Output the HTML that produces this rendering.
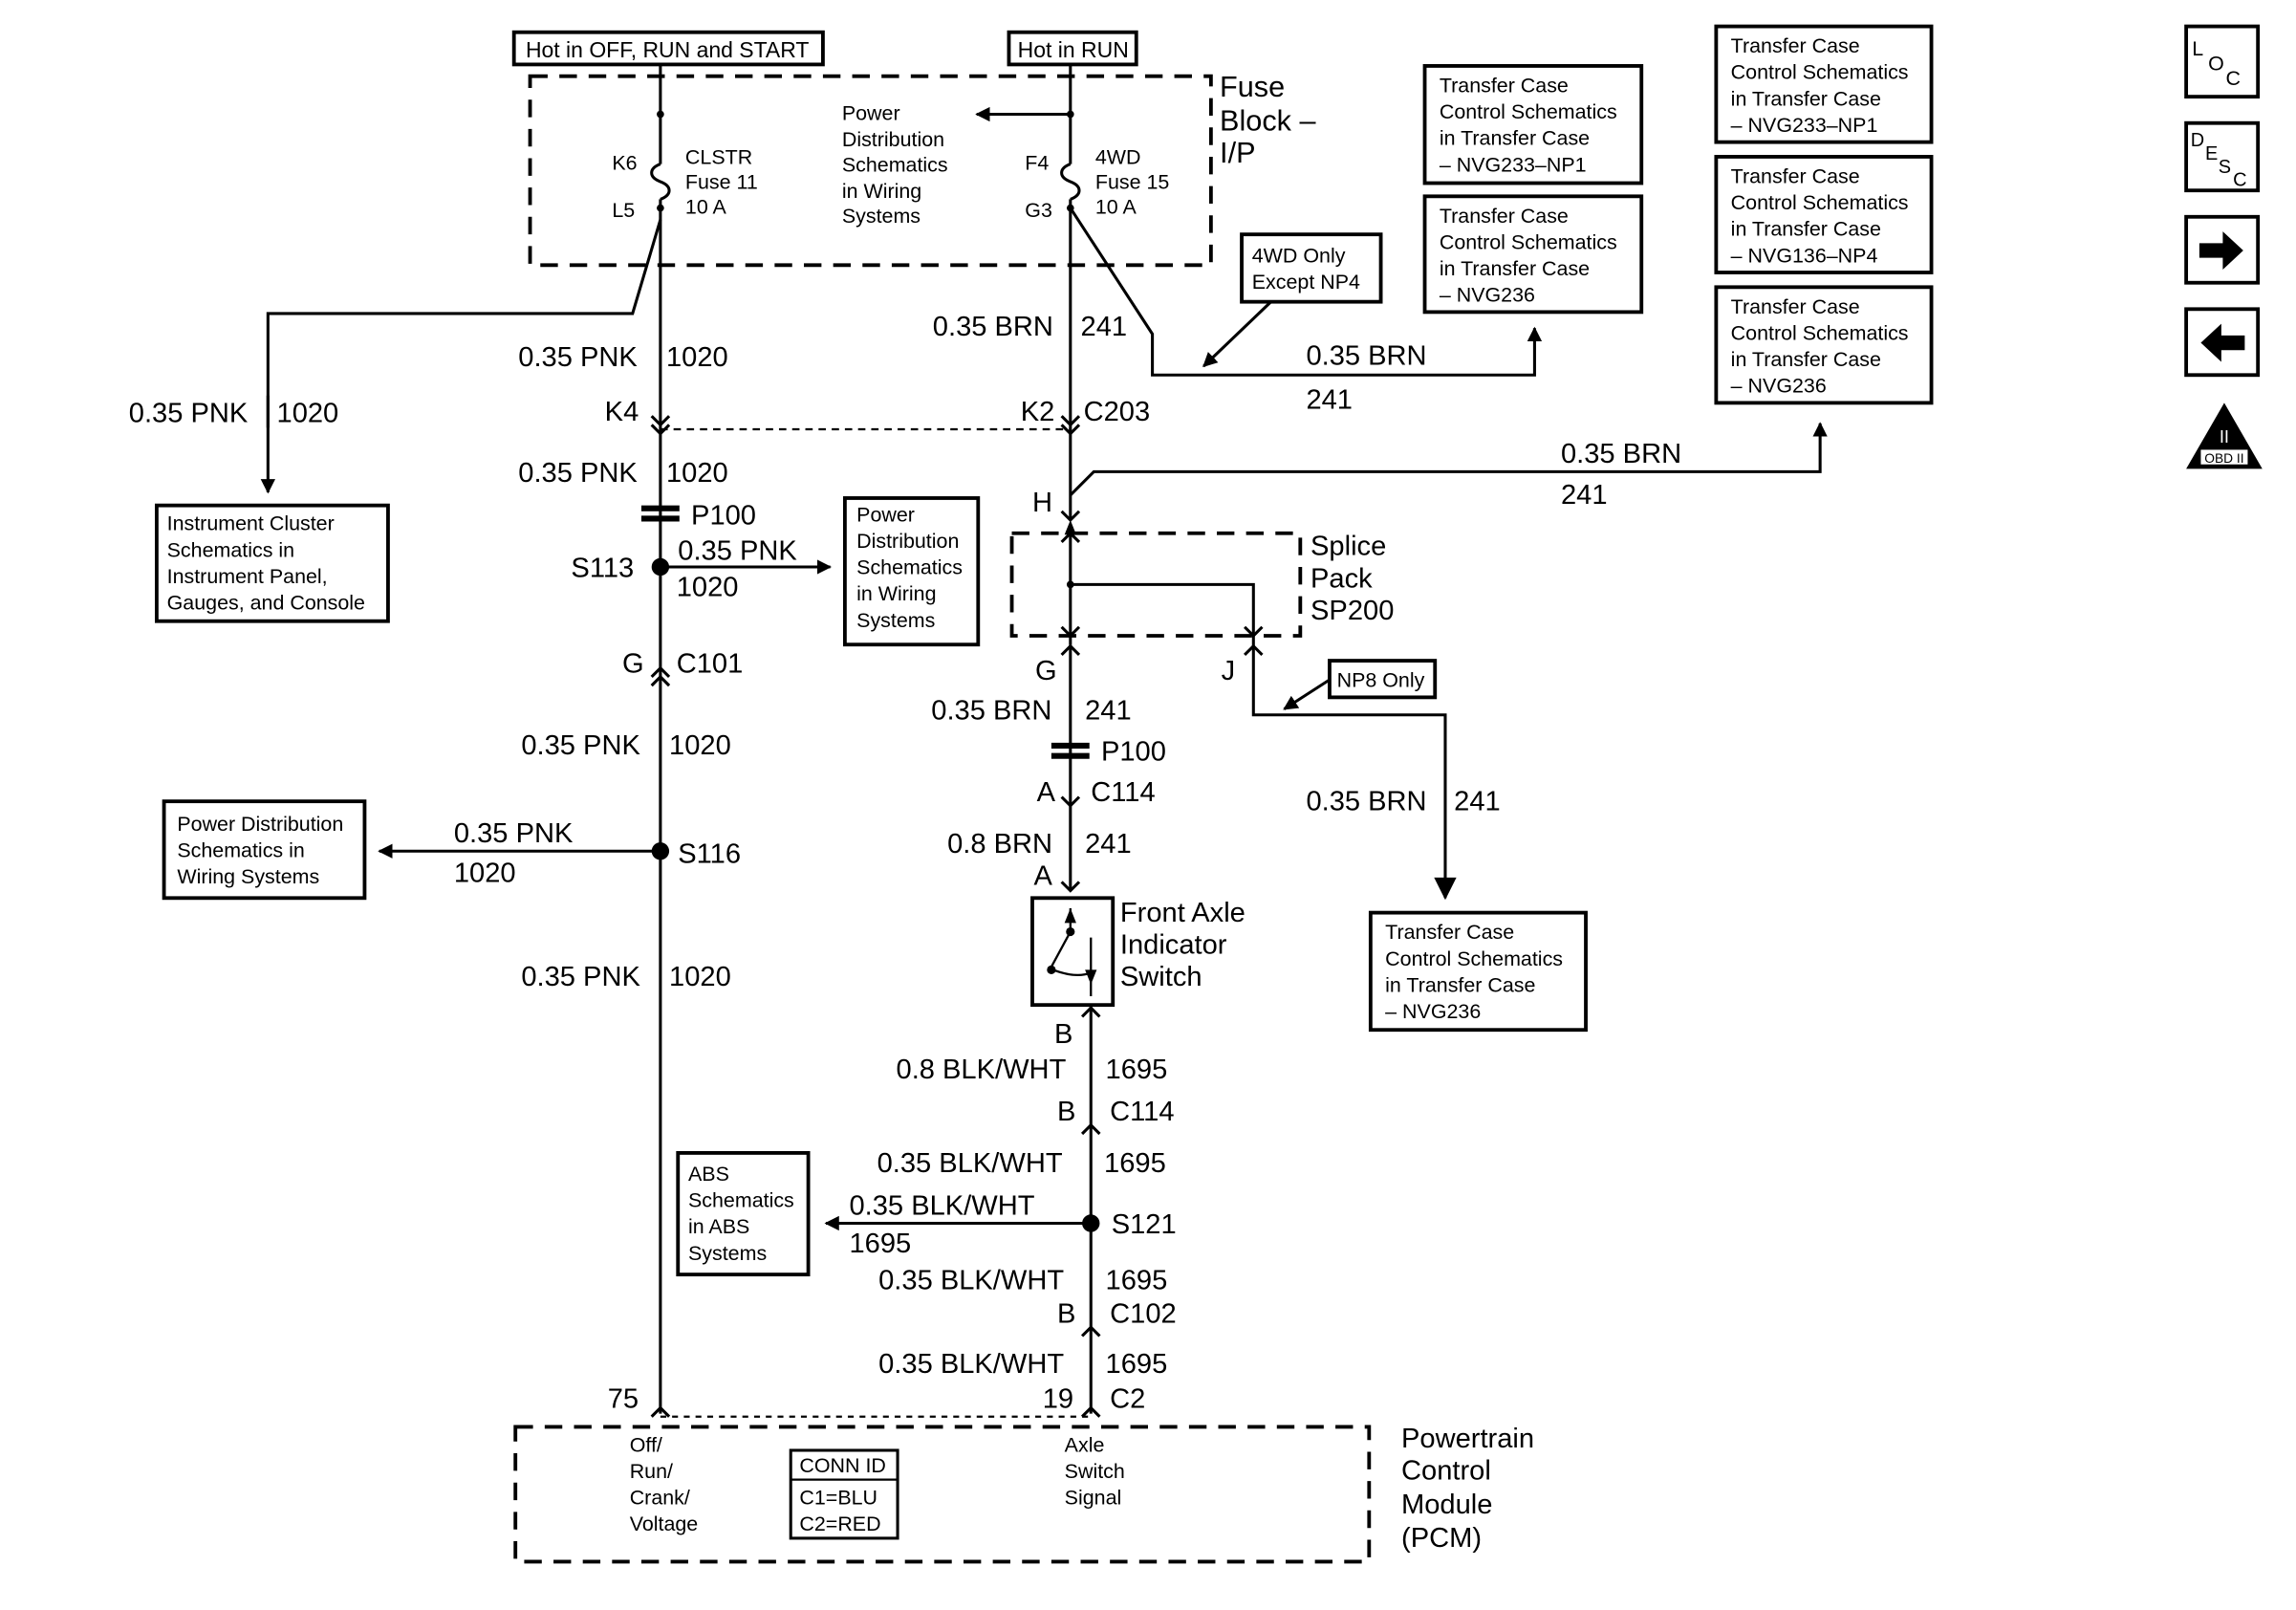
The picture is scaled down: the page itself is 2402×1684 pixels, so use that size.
<!DOCTYPE html>
<html><head><meta charset="utf-8"><style>
html,body{margin:0;padding:0;background:#fff;}
svg{display:block;}
text{font-family:"Liberation Sans",Arial,sans-serif;fill:#000;}
.w{font-size:19px;}
.s{font-size:14px;}
.m{font-size:15px;}
.b{font-size:20px;}
</style></head><body>
<svg width="2402" height="1684" viewBox="0 0 1568 1099" preserveAspectRatio="none" xmlns="http://www.w3.org/2000/svg">
<defs>
<marker id="ar" markerWidth="10" markerHeight="10" refX="9" refY="5" orient="auto" markerUnits="userSpaceOnUse"><path d="M0,0 L10,5 L0,10 z" fill="#000"/></marker>
</defs>
<g fill="none" stroke="#000" stroke-width="2">
<rect x="351" y="22" width="211" height="22" stroke-width="2.5"/>
<rect x="689" y="22" width="87" height="22" stroke-width="2.5"/>
<rect x="362" y="52" width="465" height="129" stroke-dasharray="12,8" stroke-width="2.5"/>
<path d="M451,44 V112 M451,136 V965"/>
<path d="M451,112 c-8,3 -8,9 0,12 c8,3 8,9 0,12"/>
<path d="M731,44 V112 M731,136 V355"/>
<path d="M731,112 c-8,3 -8,9 0,12 c8,3 8,9 0,12"/>
<path d="M451,150 L432,214 H183 V336" marker-end="url(#ar)"/>
<path d="M183,270 V292"/>
<path d="M731,78 H667" marker-end="url(#ar)"/>
<path d="M731,142 L787,228 V256 H1048 V224" marker-end="url(#ar)"/>
<path d="M868,206 L822,250" marker-end="url(#ar)"/>
<rect x="848" y="160" width="95" height="46" stroke-width="2.5"/>
<rect x="973" y="45" width="148" height="80" stroke-width="2.5"/>
<rect x="973" y="134" width="148" height="79" stroke-width="2.5"/>
<rect x="1172" y="18" width="147" height="79" stroke-width="2.5"/>
<rect x="1172" y="107" width="147" height="79" stroke-width="2.5"/>
<rect x="1172" y="196" width="147" height="79" stroke-width="2.5"/>
<path d="M451,293 H731" stroke-dasharray="5,4" stroke-width="1.5"/>
<path d="M445,284 l6,6 l6,-6 M445,290 l6,6 l6,-6 M725,284 l6,6 l6,-6 M725,290 l6,6 l6,-6"/>
<path d="M731,338 L747,322 H1243 V289" marker-end="url(#ar)"/>
<path d="M725,349 l6,6 l6,-6"/>
<rect x="691" y="364" width="197" height="70" stroke-dasharray="12,8" stroke-width="2.5"/>
<path d="M731,364 V440 M731,399 H856 V488 H987 V613"/>
<path d="M725,370 l6,-6 l6,6 M725,428 l6,6 l6,-6 M850,428 l6,6 l6,-6 M725,447 l6,-6 l6,6 M850,447 l6,-6 l6,6"/>
<path d="M987,600 l-6,0 l6,12 l6,-12 z" fill="#000"/>
<rect x="908" y="451" width="72" height="25" stroke-width="2.5"/>
<path d="M908,464 L877,484" marker-end="url(#ar)"/>
<rect x="936" y="623" width="147" height="80" stroke-width="2.5"/>
<path d="M731,440 V608"/>
<path d="M725,544 l6,6 l6,-6 M725,602 l6,6 l6,-6"/>
<rect x="705" y="613" width="55" height="73" stroke-width="2.5"/>
<path d="M731,620 V636 M731,636 L718,660 M745,640 V680 M719,662 Q735,668 745,664" stroke-width="1.5"/>
<path d="M745,686 V965"/>
<path d="M739,694 l6,-6 l6,6 M739,774 l6,-6 l6,6 M739,912 l6,-6 l6,6 M739,967 l6,-6 l6,6"/>
<path d="M745,835 H564" marker-end="url(#ar)"/>
<rect x="463" y="787" width="89" height="83" stroke-width="2.5"/>
<path d="M445,462 l6,-6 l6,6 M445,468 l6,-6 l6,6 M445,967 l6,-6 l6,6"/>
<path d="M451,387 H567" marker-end="url(#ar)"/>
<rect x="577" y="340" width="91" height="100" stroke-width="2.5"/>
<path d="M451,581 H259" marker-end="url(#ar)"/>
<rect x="112" y="547" width="137" height="66" stroke-width="2.5"/>
<rect x="107" y="345" width="158" height="79" stroke-width="2.5"/>
<path d="M451,967 H745" stroke-dasharray="4,4" stroke-width="1.5"/>
<rect x="352" y="974" width="583" height="92" stroke-dasharray="12,8" stroke-width="2.5"/>
<rect x="540" y="990" width="73" height="60" stroke-width="2"/>
<path d="M540,1010 H613" stroke-width="1.5"/>
<rect x="1493" y="18" width="49" height="48" stroke-width="2.5"/>
<rect x="1493" y="84" width="49" height="46" stroke-width="2.5"/>
<rect x="1493" y="148" width="49" height="45" stroke-width="2.5"/>
<rect x="1493" y="211" width="49" height="45" stroke-width="2.5"/>
</g>
<g fill="#000">
<circle cx="451" cy="78" r="2.5"/><circle cx="451" cy="142" r="2.5"/>
<circle cx="731" cy="78" r="2.5"/><circle cx="731" cy="142" r="2.5"/>
<circle cx="731" cy="399" r="2.5"/>
<circle cx="451" cy="387" r="6"/><circle cx="451" cy="581" r="6"/><circle cx="745" cy="835" r="6"/>
<circle cx="731" cy="636" r="3"/><circle cx="718" cy="662" r="3"/>
<rect x="438" y="345" width="26" height="4"/><rect x="438" y="352" width="26" height="4"/>
<rect x="718" y="507" width="26" height="4"/><rect x="718" y="514" width="26" height="4"/>
<path d="M1502,166 h16 v-8 l14,13 l-14,13 v-8 h-16 z"/>
<path d="M1533,229 h-16 v-8 l-14,13 l14,13 v-8 h16 z"/>
<path d="M1519,275 L1545,320 H1493 Z"/>
</g>
<path d="M731,355 l-4,10 h8 z M745,672 l-4,-10 h8 z M731,620 l-4,10 h8 z" fill="#000"/>
<rect x="1503" y="307" width="32" height="10" fill="#fff"/>
<text x="1519" y="316" font-size="9" text-anchor="middle">OBD II</text>
<text x="1519" y="302" font-size="12" text-anchor="middle" style="fill:#fff">II</text>
<text x="1497" y="38" font-size="14">L</text><text x="1508" y="48" font-size="14">O</text><text x="1520" y="58" font-size="14">C</text>
<text x="1496" y="100" font-size="13">D</text><text x="1506" y="109" font-size="13">E</text><text x="1515" y="118" font-size="13">S</text><text x="1525" y="127" font-size="13">C</text>

<text x="359" y="39" class="m">Hot in OFF, RUN and START</text>
<text x="695" y="39" class="m">Hot in RUN</text>
<text x="833" y="66" class="b">Fuse</text><text x="833" y="89" class="b">Block –</text><text x="833" y="111" class="b">I/P</text>
<text x="418" y="116" class="s">K6</text><text x="418" y="148" class="s">L5</text>
<text x="468" y="112" class="s">CLSTR</text><text x="468" y="129" class="s">Fuse 11</text><text x="468" y="146" class="s">10 A</text>
<text x="700" y="116" class="s">F4</text><text x="700" y="148" class="s">G3</text>
<text x="748" y="112" class="s">4WD</text><text x="748" y="129" class="s">Fuse 15</text><text x="748" y="146" class="s">10 A</text>
<text x="575" y="82" class="s">Power</text><text x="575" y="100" class="s">Distribution</text><text x="575" y="117" class="s">Schematics</text><text x="575" y="135" class="s">in Wiring</text><text x="575" y="152" class="s">Systems</text>
<text x="855" y="179" class="s">4WD Only</text><text x="855" y="197" class="s">Except NP4</text>
<g class="s">
<text x="983" y="63">Transfer Case</text><text x="983" y="81">Control Schematics</text><text x="983" y="99">in Transfer Case</text><text x="983" y="117">– NVG233–NP1</text>
<text x="983" y="152">Transfer Case</text><text x="983" y="170">Control Schematics</text><text x="983" y="188">in Transfer Case</text><text x="983" y="206">– NVG236</text>
<text x="1182" y="36">Transfer Case</text><text x="1182" y="54">Control Schematics</text><text x="1182" y="72">in Transfer Case</text><text x="1182" y="90">– NVG233–NP1</text>
<text x="1182" y="125">Transfer Case</text><text x="1182" y="143">Control Schematics</text><text x="1182" y="161">in Transfer Case</text><text x="1182" y="179">– NVG136–NP4</text>
<text x="1182" y="214">Transfer Case</text><text x="1182" y="232">Control Schematics</text><text x="1182" y="250">in Transfer Case</text><text x="1182" y="268">– NVG236</text>
<text x="946" y="641">Transfer Case</text><text x="946" y="659">Control Schematics</text><text x="946" y="677">in Transfer Case</text><text x="946" y="695">– NVG236</text>
<text x="114" y="362">Instrument Cluster</text><text x="114" y="380">Schematics in</text><text x="114" y="398">Instrument Panel,</text><text x="114" y="416">Gauges, and Console</text>
<text x="585" y="356">Power</text><text x="585" y="374">Distribution</text><text x="585" y="392">Schematics</text><text x="585" y="410">in Wiring</text><text x="585" y="428">Systems</text>
<text x="121" y="567">Power Distribution</text><text x="121" y="585">Schematics in</text><text x="121" y="603">Wiring Systems</text>
<text x="470" y="806">ABS</text><text x="470" y="824">Schematics</text><text x="470" y="842">in ABS</text><text x="470" y="860">Systems</text>
<text x="913" y="469">NP8 Only</text>
<text x="430" y="991">Off/</text><text x="430" y="1009">Run/</text><text x="430" y="1027">Crank/</text><text x="430" y="1045">Voltage</text>
<text x="546" y="1005">CONN ID</text><text x="546" y="1027">C1=BLU</text><text x="546" y="1045">C2=RED</text>
<text x="727" y="991">Axle</text><text x="727" y="1009">Switch</text><text x="727" y="1027">Signal</text>
</g>
<g class="w">
<text x="637" y="229">0.35 BRN</text><text x="738" y="229">241</text>
<text x="354" y="250">0.35 PNK</text><text x="455" y="250">1020</text>
<text x="88" y="288">0.35 PNK</text><text x="189" y="288">1020</text>
<text x="892" y="249">0.35 BRN</text><text x="892" y="279">241</text>
<text x="413" y="287">K4</text><text x="697" y="287">K2</text><text x="740" y="287">C203</text>
<text x="354" y="329">0.35 PNK</text><text x="455" y="329">1020</text>
<text x="472" y="358">P100</text>
<text x="390" y="394">S113</text>
<text x="463" y="382">0.35 PNK</text><text x="462" y="407">1020</text>
<text x="1066" y="316">0.35 BRN</text><text x="1066" y="344">241</text>
<text x="705" y="349">H</text>
<text x="895" y="379">Splice</text><text x="895" y="401">Pack</text><text x="895" y="423">SP200</text>
<text x="707" y="464">G</text><text x="834" y="464">J</text>
<text x="425" y="459">G</text><text x="462" y="459">C101</text>
<text x="636" y="491">0.35 BRN</text><text x="741" y="491">241</text>
<text x="752" y="519">P100</text>
<text x="708" y="547">A</text><text x="745" y="547">C114</text>
<text x="647" y="582">0.8 BRN</text><text x="741" y="582">241</text>
<text x="706" y="604">A</text>
<text x="765" y="629">Front Axle</text><text x="765" y="651">Indicator</text><text x="765" y="673">Switch</text>
<text x="892" y="553">0.35 BRN</text><text x="993" y="553">241</text>
<text x="356" y="515">0.35 PNK</text><text x="457" y="515">1020</text>
<text x="310" y="575">0.35 PNK</text><text x="310" y="602">1020</text>
<text x="463" y="589">S116</text>
<text x="356" y="673">0.35 PNK</text><text x="457" y="673">1020</text>
<text x="720" y="712">B</text>
<text x="612" y="736">0.8 BLK/WHT</text><text x="755" y="736">1695</text>
<text x="722" y="765">B</text><text x="758" y="765">C114</text>
<text x="599" y="800">0.35 BLK/WHT</text><text x="754" y="800">1695</text>
<text x="580" y="829">0.35 BLK/WHT</text><text x="580" y="855">1695</text>
<text x="759" y="842">S121</text>
<text x="600" y="880">0.35 BLK/WHT</text><text x="755" y="880">1695</text>
<text x="722" y="903">B</text><text x="758" y="903">C102</text>
<text x="600" y="937">0.35 BLK/WHT</text><text x="755" y="937">1695</text>
<text x="712" y="961">19</text><text x="758" y="961">C2</text>
<text x="415" y="961">75</text>
<text x="957" y="988">Powertrain</text><text x="957" y="1010">Control</text><text x="957" y="1033">Module</text><text x="957" y="1056">(PCM)</text>
</g>
</svg>
</body></html>
